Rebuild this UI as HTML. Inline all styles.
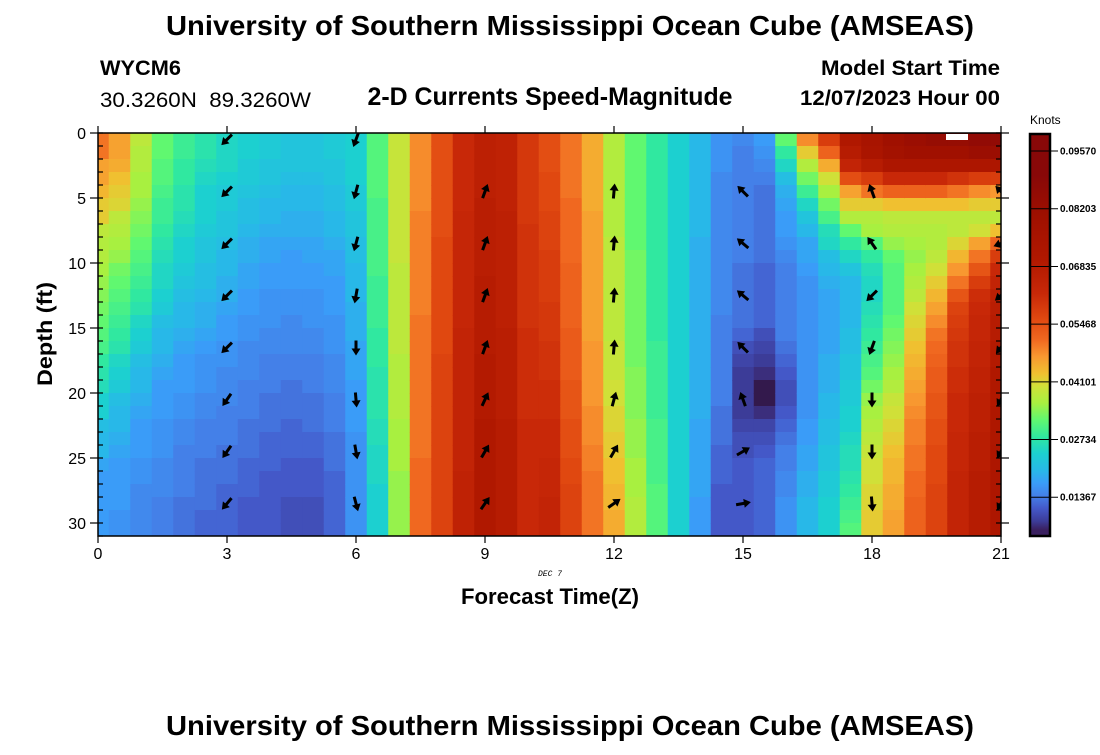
<!DOCTYPE html>
<html><head><meta charset="utf-8">
<style>
html,body{margin:0;padding:0;background:#fff;}
svg text{font-family:"Liberation Sans",Arial,sans-serif;}
</style></head>
<body>
<svg id="chart" width="1100" height="750" viewBox="0 0 1100 750" xmlns="http://www.w3.org/2000/svg">
<text x="570" y="35" text-anchor="middle" font-size="28" font-weight="bold" textLength="808" lengthAdjust="spacingAndGlyphs">University of Southern Mississippi Ocean Cube (AMSEAS)</text>
<text x="100" y="75" font-size="21" font-weight="bold" textLength="81" lengthAdjust="spacingAndGlyphs">WYCM6</text>
<text x="100" y="107" font-size="21" xml:space="preserve" textLength="211" lengthAdjust="spacingAndGlyphs">30.3260N  89.3260W</text>
<text x="550" y="105" text-anchor="middle" font-size="25" font-weight="bold" textLength="365" lengthAdjust="spacingAndGlyphs">2-D Currents Speed-Magnitude</text>
<text x="1000" y="75" text-anchor="end" font-size="21" font-weight="bold" textLength="179" lengthAdjust="spacingAndGlyphs">Model Start Time</text>
<text x="1000" y="105" text-anchor="end" font-size="21" font-weight="bold" textLength="200" lengthAdjust="spacingAndGlyphs">12/07/2023 Hour 00</text>
<g id="plot"></g>
<g id="axes"></g>
<text transform="translate(52,334) rotate(-90)" text-anchor="middle" font-size="21" font-weight="bold" textLength="104" lengthAdjust="spacingAndGlyphs">Depth (ft)</text>
<text x="550" y="604" text-anchor="middle" font-size="22" font-weight="bold" textLength="178" lengthAdjust="spacingAndGlyphs">Forecast Time(Z)</text>
<text x="550" y="576" text-anchor="middle" font-size="8" font-style="italic" style="font-family:'Liberation Mono',monospace">DEC 7</text>
<text x="1030" y="124" font-size="12">Knots</text>
<g id="cbar"></g>
<text x="570" y="735" text-anchor="middle" font-size="28" font-weight="bold" textLength="808" lengthAdjust="spacingAndGlyphs">University of Southern Mississippi Ocean Cube (AMSEAS)</text>
</svg>
<script>
// speed values (knots x 1000), one array per half-hour column (0h..21h), 31 depth rows (0..30 ft)
const hours = [0,0.5,1,1.5,2,2.5,3,3.5,4,4.5,5,5.5,6,6.5,7,7.5,8,8.5,9,9.5,10,10.5,11,11.5,12,12.5,13,13.5,14,14.5,15,15.5,16,16.5,17,17.5,18,18.5,19,19.5,20,20.5,21];
const speed = [
[50,50,46,46,44,42,42,38,37,37,36,35,34,33,32,31,30,28,27,26,24,24,21,20,20,18,17,17,17,17,17],
[46,46,45,43,42,41,38,37,36,35,33,32,31,30,29,28,27,25,24,23,21,20,20,19,18,17,17,17,17,16,16],
[38,37,37,36,36,35,34,33,32,31,30,29,28,27,25,24,23,21,20,20,19,18,17,17,17,16,16,15,15,15,15],
[32,32,31,31,30,29,29,28,27,26,25,25,24,23,21,20,20,19,18,17,17,17,16,16,16,15,15,15,14,14,14],
[29,29,28,28,27,27,26,25,24,24,23,22,21,20,20,19,18,17,17,17,16,16,15,15,14,14,14,14,13,13,13],
[27,27,26,25,24,24,24,23,22,22,21,21,20,19,19,18,17,16,16,16,15,15,14,14,14,13,13,13,13,12,12],
[25,25,25,24,23,23,22,22,21,20,20,19,19,18,17,17,16,16,15,15,15,14,14,14,13,13,13,12,12,12,12],
[24,24,23,23,22,21,21,20,19,19,18,18,17,17,16,16,15,15,15,14,14,14,13,13,13,12,12,12,11,11,11],
[23,23,22,22,21,20,20,19,18,18,17,17,16,16,16,15,15,14,14,14,13,13,13,12,12,12,11,11,11,11,11],
[22,22,22,21,20,20,19,19,18,17,17,17,16,16,15,15,15,14,14,13,13,13,12,12,12,11,11,11,10,10,10],
[22,22,22,21,20,20,19,19,18,18,17,17,16,16,16,15,15,14,14,14,13,13,13,12,12,11,11,11,10,10,10],
[23,23,22,22,21,21,20,20,19,18,18,17,17,17,16,16,16,15,15,15,14,14,14,13,13,13,12,12,12,12,12],
[24,24,24,24,23,23,22,22,21,21,20,20,20,19,19,19,18,18,18,17,17,17,17,16,16,16,16,16,16,16,16],
[31,31,31,31,31,30,30,30,30,30,30,29,29,29,29,28,28,28,27,27,27,27,26,26,25,25,25,24,24,24,24],
[39,39,39,39,39,39,39,39,39,39,38,38,38,38,38,38,38,37,37,37,37,37,36,36,36,36,35,35,35,35,35],
[48,48,48,48,48,48,49,49,49,49,49,49,49,49,50,50,50,50,50,50,50,50,50,50,50,51,51,51,51,51,51],
[55,55,55,55,55,55,55,55,56,56,56,56,56,56,56,56,56,57,57,57,57,57,57,57,57,57,57,57,57,57,57],
[62,62,62,62,62,62,63,63,63,63,63,63,63,63,63,64,64,64,64,64,64,64,64,64,64,64,65,65,65,65,65],
[66,66,66,66,66,67,67,67,67,67,67,68,68,68,68,68,68,69,69,69,69,69,70,70,70,70,70,70,70,70,70],
[65,65,65,65,65,65,66,66,66,66,66,66,66,66,66,67,67,67,67,67,67,67,68,68,68,68,68,68,68,68,68],
[59,59,59,59,59,59,59,60,60,60,60,60,60,60,60,61,61,61,61,61,61,61,62,62,62,62,62,62,62,62,62],
[55,55,55,56,56,56,57,57,57,58,58,58,58,59,59,59,60,60,60,61,61,61,62,62,62,63,63,63,64,64,64],
[50,50,50,50,50,51,51,51,51,51,52,52,52,52,52,53,53,53,53,54,54,54,55,55,55,56,56,57,57,57,57],
[45,45,45,45,45,45,46,46,46,46,46,46,46,46,46,46,47,47,47,47,47,48,48,48,49,49,50,50,50,50,50],
[37,37,37,37,37,37,37,37,38,38,38,38,38,38,38,38,39,39,39,40,40,41,41,42,42,43,43,44,44,45,45],
[32,32,32,32,32,32,32,32,32,33,33,33,33,33,33,33,33,33,34,34,34,34,35,35,35,36,36,36,37,37,37],
[28,28,28,28,28,28,28,28,28,28,28,28,28,28,28,28,29,29,29,29,29,29,30,30,30,30,30,31,31,31,31],
[24,24,24,24,24,24,24,24,24,24,24,24,24,24,24,24,24,24,24,24,24,24,24,24,24,24,24,24,24,24,24],
[20,20,20,20,20,20,20,20,19,19,19,19,19,19,19,19,19,19,19,19,19,19,18,18,18,18,18,18,17,17,17],
[16,16,16,15,15,15,15,15,15,15,15,15,15,15,14,14,14,14,14,14,14,13,13,13,12,12,12,11,11,11,11],
[15,14,14,14,14,14,14,14,14,14,13,13,13,13,13,12,10,9,8,8,8,8,9,10,10,11,11,11,11,11,11],
[17,16,15,14,13,13,13,13,13,13,12,12,12,12,12,10,9,8,7,5,5,7,9,10,11,12,12,12,12,12,12],
[32,28,25,21,19,18,17,17,16,15,14,14,14,14,14,14,13,12,11,10,10,11,12,13,14,14,15,15,16,16,16],
[48,42,37,33,29,25,22,20,18,18,17,16,16,16,16,16,16,16,16,16,16,16,17,17,18,18,19,19,20,20,20],
[58,52,45,40,36,33,30,26,25,21,20,19,18,18,18,18,18,19,19,19,20,20,21,21,22,22,23,23,24,24,24],
[70,68,64,55,46,42,37,32,28,25,22,20,20,20,20,21,21,22,22,23,23,24,24,25,26,26,27,28,29,30,31],
[75,74,68,58,50,42,37,36,31,28,26,25,25,26,27,28,29,30,31,33,35,36,37,38,39,40,40,41,41,42,42],
[80,78,72,62,52,43,38,37,35,32,31,31,31,31,32,33,34,35,36,37,39,40,41,42,43,44,44,45,45,46,46],
[82,80,72,62,52,43,38,37,36,35,36,37,38,40,41,42,43,44,45,46,47,48,49,49,50,50,51,51,52,52,52],
[84,80,72,62,52,43,38,37,37,38,40,42,44,46,48,50,51,52,53,53,54,54,55,55,56,56,56,57,57,57,57],
[84,80,72,60,50,43,38,38,41,44,47,50,54,57,58,59,60,60,61,61,62,62,62,63,63,63,64,64,64,64,64],
[86,82,72,58,48,42,38,40,46,50,54,58,61,62,63,63,64,64,65,65,66,66,66,67,67,67,68,68,68,68,68],
[86,82,72,58,47,42,38,43,52,58,62,64,66,67,68,68,69,69,70,70,70,71,71,71,72,72,72,72,72,72,72]
];
// current vectors: hour, depth (ft), direction (deg clockwise from north)
const arrowHour  = [3,3,3,3,3,3,3,3, 6,6,6,6,6,6,6,6, 9,9,9,9,9,9,9, 12,12,12,12,12,12,12, 15,15,15,15,15,15,15, 18,18,18,18,18,18,18, 21,21,21,21,21,21,21];
const arrowDepth = [0.5,4.5,8.5,12.5,16.5,20.5,24.5,28.5, 0.5,4.5,8.5,12.5,16.5,20.5,24.5,28.5, 4.5,8.5,12.5,16.5,20.5,24.5,28.5, 4.5,8.5,12.5,16.5,20.5,24.5,28.5, 4.5,8.5,12.5,16.5,20.5,24.5,28.5, 4.5,8.5,12.5,16.5,20.5,24.5,28.5, 4.5,8.5,12.5,16.5,20.5,24.5,28.5];
const arrowDir   = [225,225,225,225,225,215,215,220, 200,195,195,190,180,175,170,165, 20,20,20,20,25,30,35, 5,5,5,5,15,30,55, 315,310,310,315,340,60,80, 340,325,225,200,180,180,175, 315,250,230,220,210,210,210];
const yTicks = [0,5,10,15,20,25,30];
const xTicks = [0,3,6,9,12,15,18,21];
const cbarTicks = [0.09570,0.08203,0.06835,0.05468,0.04101,0.02734,0.01367];

const NS='http://www.w3.org/2000/svg';
const X0=98,X1=1001,Y0=133,Y1=536;
const xs=h=>X0+(h/21)*(X1-X0);
const ys=d=>Y0+d*13;
const CB_Y0=134,CB_Y1=536;
const cbY=v=>151+(0.0957-v)*(57.7/0.01367);
const stops=[[4,'#2c1238'],[6,'#3a2060'],[8,'#3c3c98'],[11,'#4458c8'],[14,'#4480e8'],[17,'#3a9cf8'],[20,'#28b8e8'],[24,'#1cd0d0'],[28,'#30e8a0'],[32,'#60f870'],[36,'#a8f040'],[40,'#d0e038'],[43,'#f0c030'],[47,'#f89830'],[51,'#f06820'],[56,'#e04810'],[62,'#c82808'],[70,'#b01800'],[80,'#a01000'],[90,'#880808'],[100,'#6a0404']];
function hex(c){return [parseInt(c.slice(1,3),16),parseInt(c.slice(3,5),16),parseInt(c.slice(5,7),16)];}
function cmap(v){
  if(v<=stops[0][0])return stops[0][1];
  for(let i=1;i<stops.length;i++){
    if(v<=stops[i][0]){const a=stops[i-1],b=stops[i];const t=(v-a[0])/(b[0]-a[0]);
      const ca=hex(a[1]),cb=hex(b[1]);
      return 'rgb('+ca.map((x,k)=>Math.round(x+(cb[k]-x)*t)).join(',')+')';}
  }
  return stops[stops.length-1][1];
}
function el(tag,attrs,parent){const e=document.createElementNS(NS,tag);for(const k in attrs)e.setAttribute(k,attrs[k]);parent.appendChild(e);return e;}
const svg=document.getElementById('chart');
const defs=el('defs',{},svg);
const cp=el('clipPath',{id:'pc'},defs);
el('rect',{x:X0,y:Y0,width:X1-X0,height:Y1-Y0},cp);
const plot=document.getElementById('plot');
plot.setAttribute('clip-path','url(#pc)');
const cw=(X1-X0)/42;
speed.forEach((col,j)=>{
  col.forEach((v,r)=>{
    const c=el('rect',{x:xs(hours[j])-cw/2,y:ys(r),width:cw+0.6,height:13.6,fill:cmap(v)},plot);
    
    
  });
});
const miss=el('rect',{x:946,y:134,width:22,height:6,fill:'#fff'},plot);


// arrows
arrowHour.forEach((h,i)=>{
  const cx=xs(h),cy=ys(arrowDepth[i]);
  const g=el('g',{transform:'translate('+cx+','+cy+') rotate('+arrowDir[i]+')'},plot);
  
  
  el('line',{x1:0,y1:7,x2:0,y2:-3,stroke:'#000','stroke-width':3},g);
  el('polygon',{points:'0,-8 -4.5,-1 4.5,-1',fill:'#000'},g);
});
const axes=document.getElementById('axes');
el('rect',{x:X0,y:Y0,width:X1-X0,height:Y1-Y0,fill:'none',stroke:'#000','stroke-width':1.5},axes);
for(let d=0;d<=31;d++){
  el('line',{x1:X0,y1:ys(d),x2:X0+5,y2:ys(d),stroke:'#000','stroke-width':1.2},axes);
  el('line',{x1:X1,y1:ys(d),x2:X1-5,y2:ys(d),stroke:'#000','stroke-width':1.2},axes);
}
yTicks.forEach(d=>{
  el('line',{x1:X0-8,y1:ys(d),x2:X0,y2:ys(d),stroke:'#000','stroke-width':1.2},axes);
  el('line',{x1:X1,y1:ys(d),x2:X1+8,y2:ys(d),stroke:'#000','stroke-width':1.2},axes);
  const t=el('text',{x:X0-12,y:ys(d)+6,'text-anchor':'end','font-size':16},axes);
  t.textContent=d;
  
  
});
xTicks.forEach(h=>{
  el('line',{x1:xs(h),y1:Y0-7,x2:xs(h),y2:Y0,stroke:'#000','stroke-width':1.2},axes);
  el('line',{x1:xs(h),y1:Y1,x2:xs(h),y2:Y1+7,stroke:'#000','stroke-width':1.2},axes);
  const t=el('text',{x:xs(h),y:559,'text-anchor':'middle','font-size':16},axes);
  t.textContent=h;
  
  
});
// colorbar
const cb=document.getElementById('cbar');
const lg=el('linearGradient',{id:'cg',x1:0,y1:1,x2:0,y2:0,gradientUnits:'objectBoundingBox'},defs);
const vmin=0.0957-(CB_Y1-151)*(0.01367/57.7), vmax=0.0957+(151-CB_Y0)*(0.01367/57.7);
stops.forEach(s=>{const off=((s[0]/1000)-vmin)/(vmax-vmin);if(off>=0&&off<=1)el('stop',{offset:off,'stop-color':s[1]},lg);});
el('rect',{x:1030,y:CB_Y0,width:20,height:CB_Y1-CB_Y0,fill:'url(#cg)',stroke:'#000','stroke-width':2.5},cb);
cbarTicks.forEach(v=>{
  const y=cbY(v);
  el('line',{x1:1030,y1:y,x2:1058,y2:y,stroke:'#000','stroke-width':1},cb);
  const t=el('text',{x:1060,y:y+3.5,'font-size':10,'font-weight':'bold'},cb);
  t.textContent=v.toFixed(5);
  
  
});
</script>
</body></html>
